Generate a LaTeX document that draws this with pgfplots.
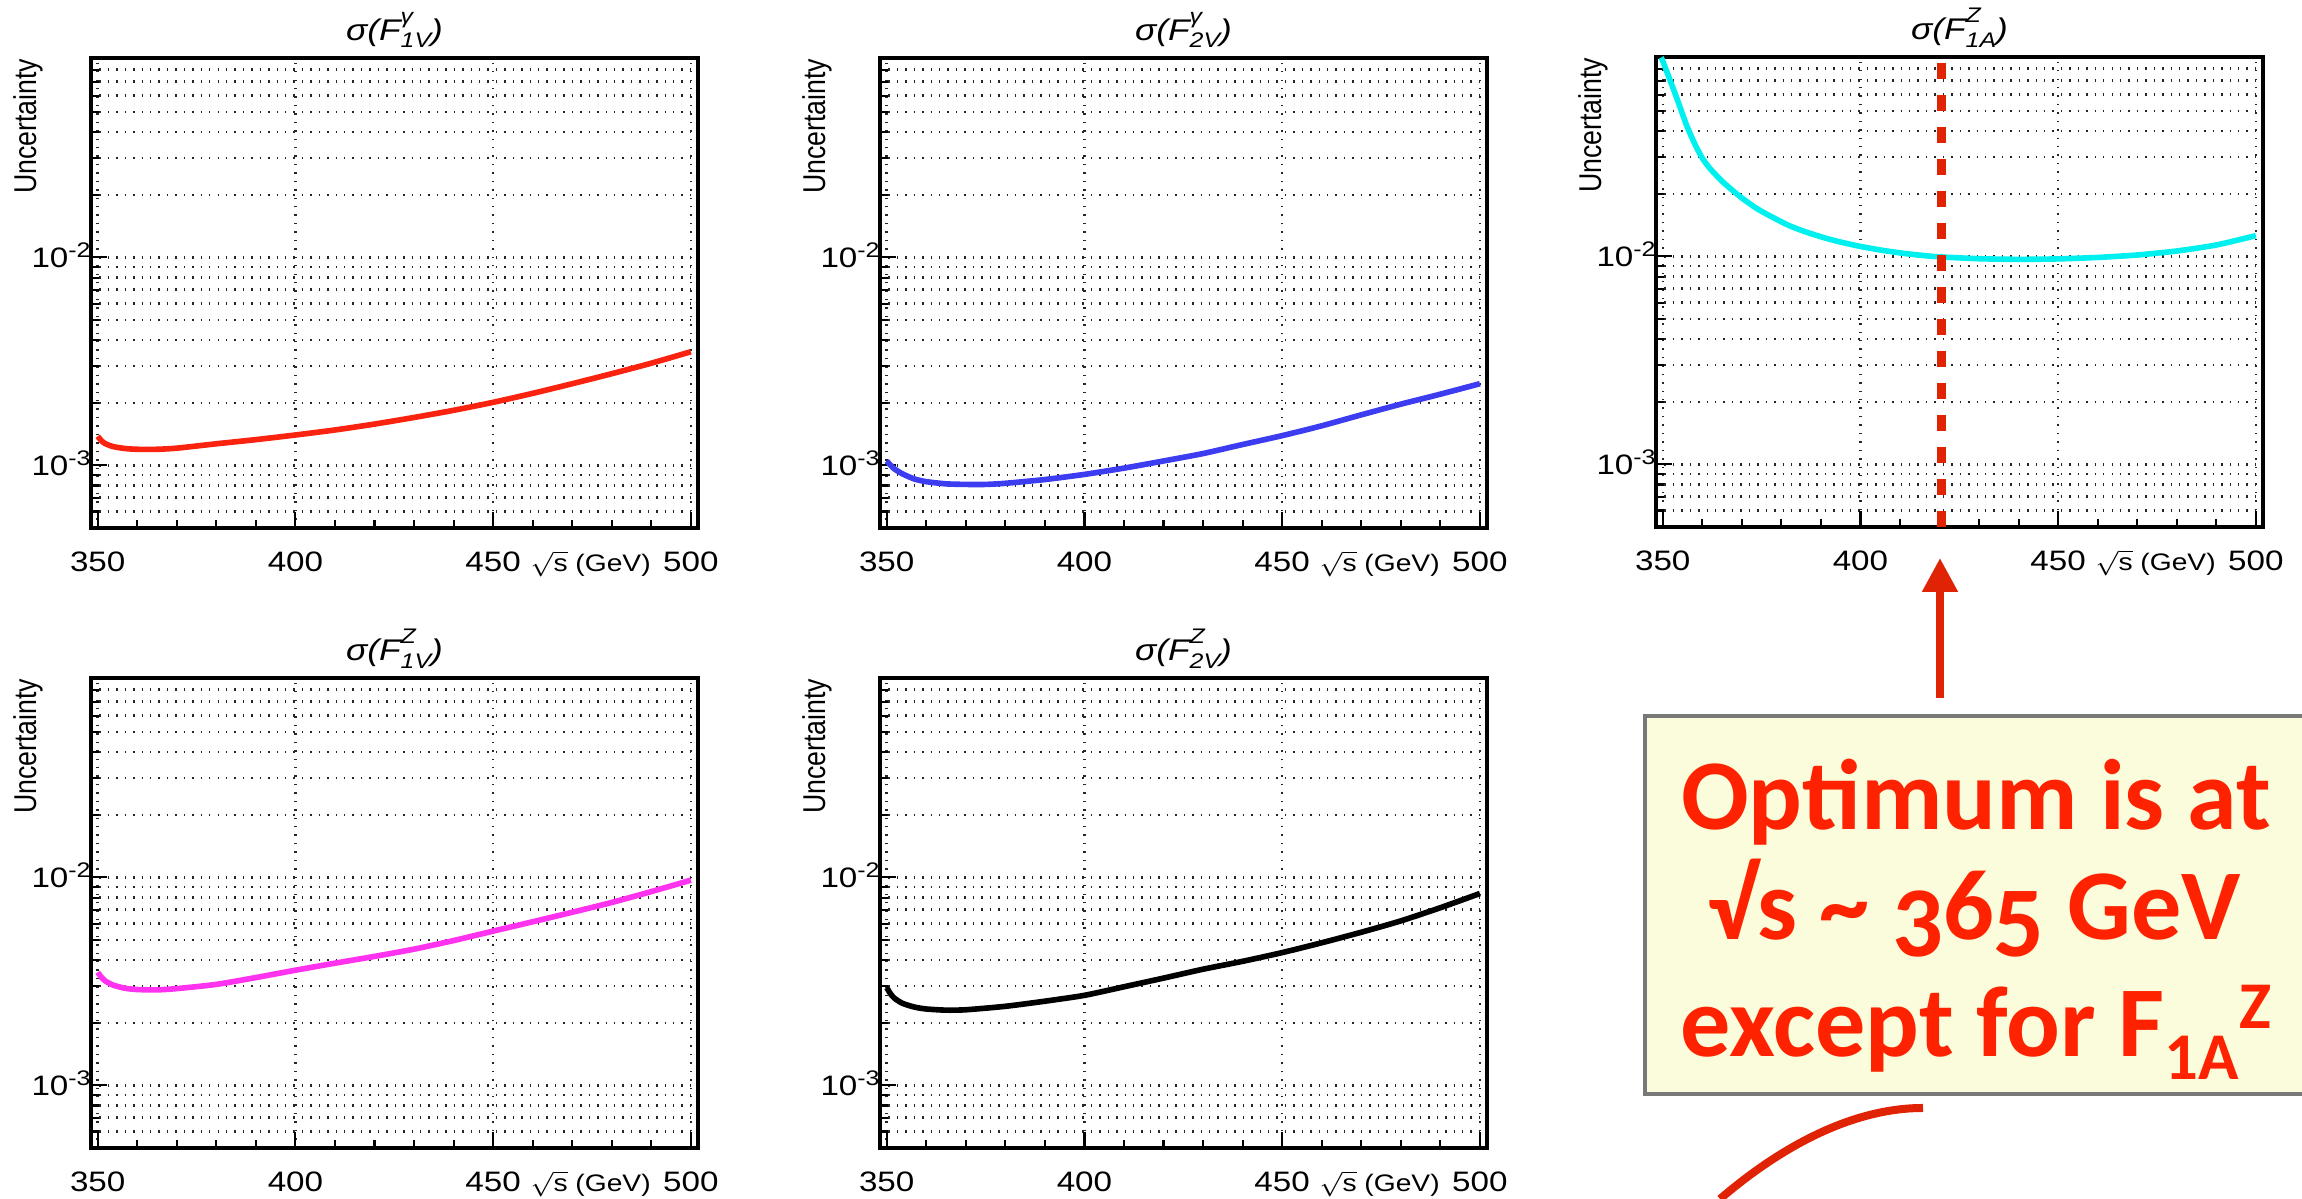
\documentclass[border=0pt]{standalone}
\usepackage{fontspec}
\setmainfont{Liberation Sans}[FakeStretch=1.18]
\newfontfamily\plainsans{Liberation Sans}
\newfontfamily\boxfont{Carlito}
\usepackage{graphicx}
\usepackage{pgfplots}
\pgfplotsset{compat=1.18}
\usetikzlibrary{arrows.meta}

\definecolor{cRed}{RGB}{250,35,15}
\definecolor{cBlue}{RGB}{60,60,240}
\definecolor{cCyan}{RGB}{0,240,240}
\definecolor{cMag}{RGB}{255,50,240}
\definecolor{txtRed}{RGB}{255,34,0}
\definecolor{arrRed}{RGB}{225,35,5}
\definecolor{boxFill}{RGB}{250,252,220}
\definecolor{boxLine}{RGB}{120,120,120}

\newcommand\supsub[2]{\makebox[0pt][l]{\raisebox{1.1ex}{\fontsize{6}{7}\selectfont #1}}\raisebox{-0.45ex}{\fontsize{6}{7}\selectfont #2}}

\pgfplotsset{
  rootaxis/.style={
    width=6.07cm, height=4.70cm, scale only axis,
    xmin=348.3, xmax=501.8,
    ymin=5e-4, ymax=0.091,
    xtick={350,400,450,500},
    xticklabels={350,400,450,500},
    minor xtick={360,370,380,390,410,420,430,440,460,470,480,490},
    ytick={1e-3,1e-2},
    yticklabels={10\textsuperscript{-3},10\textsuperscript{-2}},
    minor ytick={6e-4,7e-4,8e-4,9e-4,2e-3,3e-3,4e-3,5e-3,6e-3,7e-3,8e-3,9e-3,2e-2,3e-2,4e-2,5e-2,6e-2,7e-2,8e-2},
    xmajorgrids=true, xminorgrids=false,
    ymajorgrids=true, yminorgrids=true,
    major grid style={dotted, black!85, line width=0.7pt},
    minor grid style={dotted, black!85, line width=0.7pt},
    tick pos=left, tick align=inside,
    major tick length=0.16cm, minor tick length=0.08cm,
    tick style={black, line width=0.6pt},
    axis line style={line width=0.9pt},
    tick label style={font=\fontsize{8}{9.6}\selectfont},
    xticklabel style={anchor=base, inner sep=0pt, yshift=-0.44cm},
    yticklabel style={anchor=base east, inner sep=0pt, xshift=0.02cm, yshift=-0.1cm},
    title style={anchor=base, yshift=-0.04cm, font=\fontsize{8.5}{10}\selectfont, inner sep=0pt},
    xlabel={$\sqrt{\mbox{s}}$ (GeV)},
    xlabel style={at={(axis description cs:0.823,0)}, anchor=base, yshift=-0.44cm, font=\fontsize{6.8}{8}\selectfont, inner sep=0pt},
    ylabel={\scalebox{1.18}[1]{\rotatebox{90}{\plainsans\fontsize{7.6}{9}\selectfont Uncertainty}}},
    ylabel style={at={(axis description cs:0,1)}, anchor=north east, rotate=-90, xshift=-0.47cm, inner sep=0pt},
  },
  mycurve/.style={line width=1.6pt, smooth, tension=0.4},
}

\begin{document}
\begin{tikzpicture}
\path[use as bounding box] (0,0) rectangle (23.02,11.99);

% Panel 1: F1V gamma
\begin{axis}[ymode=log, rootaxis, at={(0.91cm,6.71cm)}, title={\itshape σ(F\supsub{γ}{1V})}]
\addplot[mycurve, cRed] coordinates {
(350,1.38e-3) (351,1.31e-3) (352,1.27e-3) (354,1.23e-3) (357,1.205e-3) (360,1.195e-3)
(365,1.195e-3) (370,1.21e-3) (380,1.27e-3) (390,1.33e-3) (400,1.40e-3) (410,1.48e-3)
(420,1.58e-3) (430,1.70e-3) (440,1.84e-3) (450,2.01e-3) (460,2.22e-3) (470,2.47e-3)
(480,2.76e-3) (490,3.10e-3) (500,3.52e-3)};
\end{axis}

% Panel 2: F2V gamma
\begin{axis}[ymode=log, rootaxis, at={(8.80cm,6.71cm)}, title={\itshape σ(F\supsub{γ}{2V})}]
\addplot[mycurve, cBlue] coordinates {
(350,1.05e-3) (351,1.00e-3) (352,9.6e-4) (354,9.1e-4) (357,8.6e-4) (360,8.35e-4)
(365,8.15e-4) (370,8.1e-4) (375,8.1e-4) (380,8.2e-4) (390,8.55e-4) (400,9.05e-4)
(410,9.7e-4) (420,1.05e-3) (430,1.14e-3) (440,1.26e-3) (450,1.39e-3) (460,1.55e-3)
(470,1.75e-3) (480,1.97e-3) (490,2.20e-3) (500,2.47e-3)};
\end{axis}

% Panel 3: F1A Z
\begin{axis}[ymode=log, rootaxis, at={(16.56cm,6.72cm)}, title={\itshape σ(F\supsub{Z}{1A})}]
\addplot[mycurve, cCyan] coordinates {
(349.6,0.0905) (350,0.0871) (352,0.0692) (354,0.0547) (356,0.0429) (358,0.0351)
(360,0.0297) (362,0.0264) (365,0.0230) (367,0.0213) (370,0.0191) (374,0.0169)
(378,0.01535) (382,0.01406) (386,0.01315) (391,0.01227) (395,0.01172) (400,0.01117)
(405,0.01074) (410,0.01040) (415,0.01014) (420,0.00995) (430,0.00975) (440,0.00968)
(450,0.00973) (460,0.00989) (470,0.01016) (480,0.01062) (490,0.01135) (500,0.01259)};
\draw[arrRed, line width=0.09cm, dash pattern=on 0.16cm off 0.16cm]
  (axis cs:420.6,0.085) -- (axis cs:420.6,5e-4);
\end{axis}

% Panel 4: F1V Z
\begin{axis}[ymode=log, rootaxis, at={(0.91cm,0.51cm)}, title={\itshape σ(F\supsub{Z}{1V})}]
\addplot[mycurve, cMag] coordinates {
(350,3.50e-3) (351,3.30e-3) (352,3.17e-3) (354,3.03e-3) (357,2.93e-3) (360,2.89e-3)
(365,2.88e-3) (370,2.92e-3) (380,3.06e-3) (390,3.30e-3) (400,3.58e-3) (410,3.87e-3)
(420,4.17e-3) (430,4.52e-3) (440,4.97e-3) (450,5.52e-3) (460,6.12e-3) (470,6.80e-3)
(480,7.58e-3) (490,8.55e-3) (500,9.70e-3)};
\end{axis}

% Panel 5: F2V Z
\begin{axis}[ymode=log, rootaxis, at={(8.80cm,0.51cm)}, title={\itshape σ(F\supsub{Z}{2V})}]
\addplot[mycurve, black] coordinates {
(350,2.95e-3) (351,2.75e-3) (352,2.62e-3) (354,2.48e-3) (357,2.38e-3) (360,2.33e-3)
(365,2.30e-3) (370,2.31e-3) (380,2.40e-3) (390,2.54e-3) (400,2.71e-3) (410,2.98e-3)
(420,3.28e-3) (430,3.62e-3) (440,3.95e-3) (450,4.35e-3) (460,4.85e-3) (470,5.45e-3)
(480,6.18e-3) (490,7.15e-3) (500,8.37e-3)};
\end{axis}

% Annotation box
\draw[arrRed, line width=0.08cm, -{Triangle[width=0.34cm,length=0.34cm]}] (19.40,5.01) -- (19.40,6.41);
\filldraw[fill=boxFill, draw=boxLine, line width=0.035cm] (16.45,4.83) rectangle (23.15,1.05);
\node[anchor=base, text=txtRed, inner sep=0pt, font=\boxfont\bfseries\fontsize{28.5}{32}\selectfont] at (19.76,3.69) {Optimum is at};
\node[anchor=base, text=txtRed, inner sep=0pt, font=\boxfont\bfseries\fontsize{28.5}{32}\selectfont] at (19.74,2.59) {√s {\char`\~} \raisebox{-4.8pt}{3}6\raisebox{-4.8pt}{5} GeV};
\node[anchor=base, text=txtRed, inner sep=0pt, font=\boxfont\bfseries\fontsize{28.5}{32}\selectfont] at (19.76,1.42) {except for F\raisebox{-6.5pt}{\fontsize{19}{20}\selectfont 1A}\raisebox{8pt}{\fontsize{19}{20}\selectfont Z}};
\draw[arrRed, line width=0.08cm] (19.23,0.91) .. controls (18.6,0.91) and (17.9,0.6) .. (17.2,0.0);
\end{tikzpicture}
\end{document}
